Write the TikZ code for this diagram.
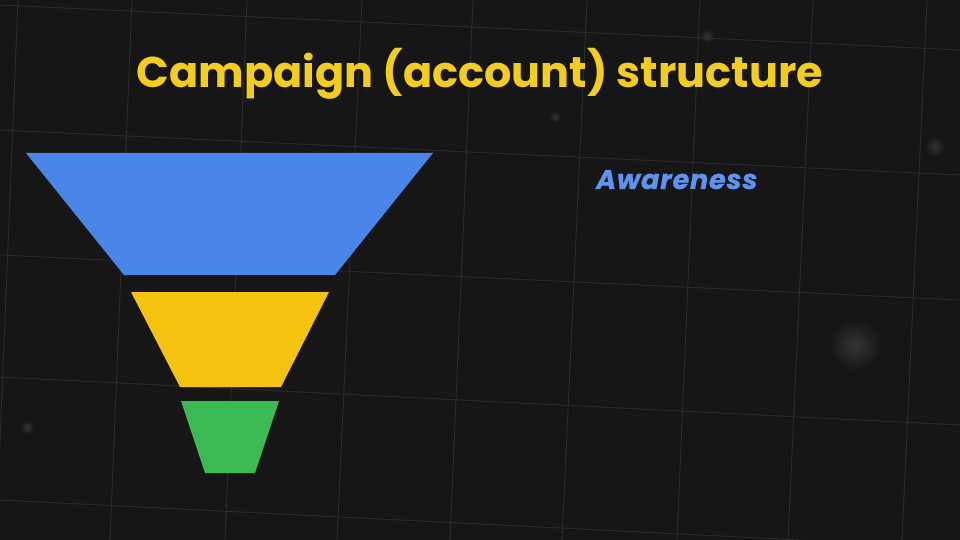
\documentclass[tikz,border=0pt]{standalone}
\usepackage{fontspec}
\setmainfont{Poppins}
\usetikzlibrary{positioning}

\definecolor{bgdark}{HTML}{161616}
\definecolor{gridgray}{HTML}{2C2C2C}
\definecolor{titleyellow}{HTML}{F2CD1F}
\definecolor{stageblue}{HTML}{4A86E8}
\definecolor{stageyellow}{HTML}{F4C20F}
\definecolor{stagegreen}{HTML}{3CBB54}
\definecolor{labelblue}{HTML}{5E93F0}

\begin{document}
\begin{tikzpicture}[x=1pt, y=-1pt,
    gridline/.style={draw=gridgray, line width=0.9pt},
    glow/.style={inner color=white!13!bgdark, outer color=bgdark},
    heading/.style={text=titleyellow, font=\bfseries\fontsize{43}{50}\selectfont, inner sep=0pt},
    stagelabel/.style={text=labelblue, font=\addfontfeature{LetterSpace=3,FakeBold=0.8}\bfseries\itshape\fontsize{27}{30}\selectfont, inner sep=0pt}]

  % background
  \fill[bgdark] (0,0) rectangle (960,540);
  \useasboundingbox (0,0) rectangle (960,540);

  % blurred dots
  \shade[glow] (855,345) circle (26);
  \shade[glow] (935,147) circle (10);
  \shade[glow] (707,36) circle (7);
  \shade[glow] (555,117) circle (6);
  \shade[glow] (27,427) circle (7);

  % faint grid
  \foreach \top/\bot in {18/-4, 132/110, 247/225, 362/337, 473/450, 587/562, 700/677, 813/788, 927/902}
    \draw[gridline] (\top,0) -- (\bot,540);
  \foreach \lft/\rgt in {5/50, 130/175, 255/300, 377/425, 500/548}
    \draw[gridline] (0,\lft) -- (960,\rgt);

  % funnel
  \fill[stageblue] (26,153) coordinate (blue-tl) -- (433,153) coordinate (blue-tr)
    -- (335,275) coordinate (blue-br) -- (124,275) coordinate (blue-bl) -- cycle;
  \fill[stageyellow] (131,292) coordinate (yellow-tl) -- (329,292) coordinate (yellow-tr)
    -- (281,387) coordinate (yellow-br) -- (180,387) coordinate (yellow-bl) -- cycle;
  \fill[stagegreen] (181,401) coordinate (green-tl) -- (279,401) coordinate (green-tr)
    -- (255,473) coordinate (green-br) -- (205,473) coordinate (green-bl) -- cycle;

  % texts
  \node[heading, anchor=base] (title) at (480,88) {Campaign (account) structure};
  \node[stagelabel, anchor=base west] (awareness) at (596,189) {Awareness};

\end{tikzpicture}
\end{document}
